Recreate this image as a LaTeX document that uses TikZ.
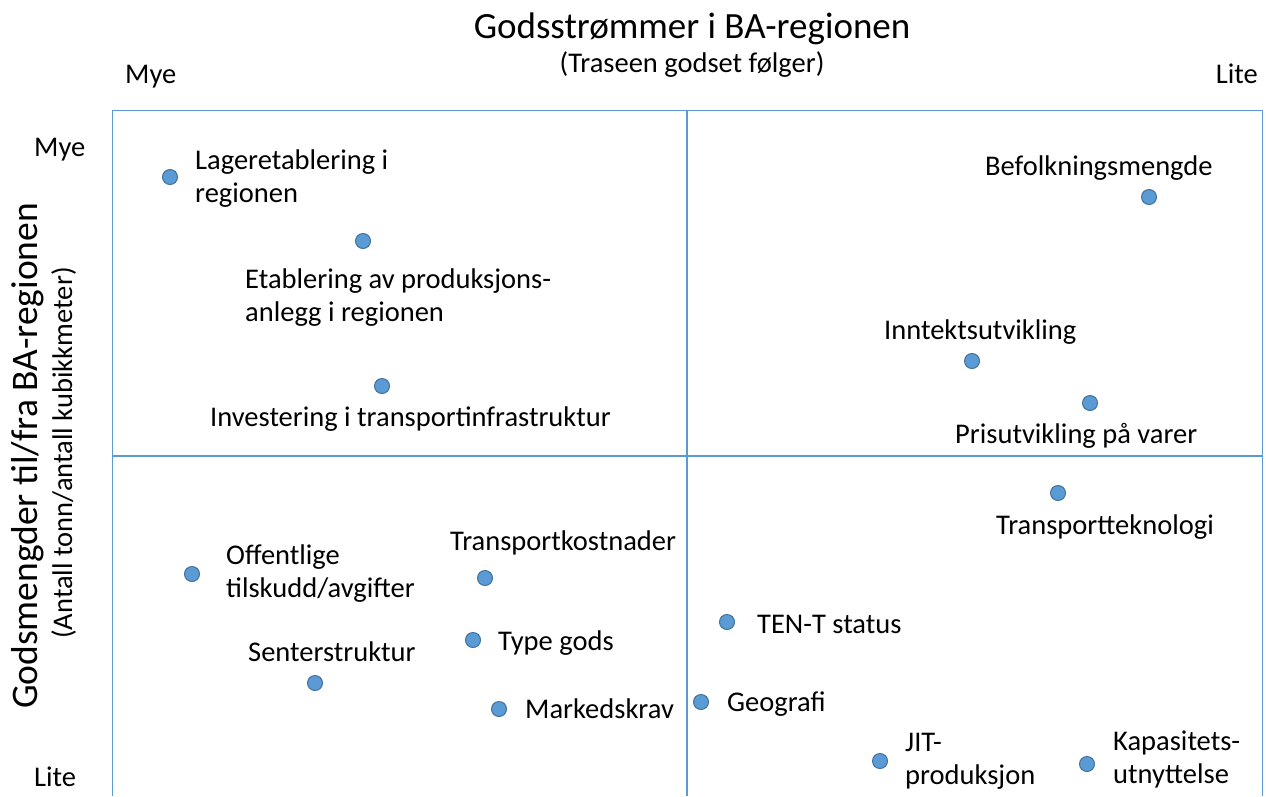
\documentclass[tikz,border=0pt]{standalone}
\usepackage{fontspec}
\setmainfont{Carlito}
\definecolor{gridline}{HTML}{5B9BD5}
\definecolor{dotfill}{HTML}{5B9BD5}
\definecolor{dotdraw}{HTML}{41719C}
\begin{document}
\begin{tikzpicture}[x=1pt,y=-1pt,
  dot/.style={circle,fill=dotfill,draw=dotdraw,line width=1pt,minimum size=15pt,inner sep=0pt},
  lbl/.style={font=\fontsize{28.5}{32.5}\selectfont,anchor=base west,align=left,inner sep=0pt},
  ax/.style={font=\fontsize{28.5}{32}\selectfont,inner sep=0pt},
  grid/.style={draw=gridline,line width=1.3pt}]
\useasboundingbox (0,0) rectangle (1266,796);
% frame
\coordinate (tl) at (112,110);
\coordinate (tr) at (1262,110);
\coordinate (bl) at (112,796);
\coordinate (br) at (1262,796);
\coordinate (mt) at (687,110);
\coordinate (mb) at (687,796);
\coordinate (ml) at (112,456);
\coordinate (mr) at (1262,456);
\draw[grid,line width=0.9pt] (bl) -- (tl) -- (tr) -- (br);
\draw[grid] (mt) -- (mb);
\draw[grid] (ml) -- (mr);
% titles
\node[font=\fontsize{37}{42}\selectfont,inner sep=0pt,anchor=base] (title) at (692,38) {Godsstrømmer i BA-regionen};
\node[ax,anchor=base] (sub) at (692,72) {(Traseen godset følger)};
\node[ax,anchor=base west] (mye1) at (125,83) {Mye};
\node[ax,anchor=base east] (lite1) at (1258,83) {Lite};
\node[ax,anchor=base west] (mye2) at (34,156) {Mye};
\node[ax,anchor=base west] (lite2) at (34,786) {Lite};
\node[font=\fontsize{37.5}{42}\selectfont,inner sep=0pt,rotate=90,anchor=base] (ylab) at (37,456) {Godsmengder til/fra BA-regionen};
\node[ax,rotate=90,anchor=base] (ysub) at (72,453) {(Antall tonn/antall kubikkmeter)};
% dots
\node[dot] (d1) at (170,177) {};
\node[dot] (d2) at (363,241) {};
\node[dot] (d3) at (382,386) {};
\node[dot] (d4) at (1149,197) {};
\node[dot] (d5) at (972,361) {};
\node[dot] (d6) at (1090,403) {};
\node[dot] (d7) at (1058,493) {};
\node[dot] (d8) at (192,574) {};
\node[dot] (d9) at (485,578) {};
\node[dot] (d10) at (473,640) {};
\node[dot] (d11) at (315,683) {};
\node[dot] (d12) at (499,709) {};
\node[dot] (d13) at (727,622) {};
\node[dot] (d14) at (701,702) {};
\node[dot] (d15) at (880,761) {};
\node[dot] (d16) at (1087,764) {};
% labels (multi-line nodes: base = baseline of last line)
\node[lbl] (t1) at (195,202) {Lageretablering i\\regionen};
\node[lbl] (t2) at (245,321) {Etablering av produksjons-\\anlegg i regionen};
\node[lbl] (t3) at (210,426) {Investering i transportinfrastruktur};
\node[lbl] (t4) at (985,175) {Befolkningsmengde};
\node[lbl] (t5) at (884,339) {Inntektsutvikling};
\node[lbl] (t6) at (955,443) {Prisutvikling på varer};
\node[lbl] (t7) at (996,534) {Transportteknologi};
\node[lbl] (t8) at (226,597) {Offentlige\\tilskudd/avgifter};
\node[lbl] (t9) at (450,550) {Transportkostnader};
\node[lbl] (t10) at (498,650) {Type gods};
\node[lbl] (t11) at (248,661) {Senterstruktur};
\node[lbl] (t12) at (525,718) {Markedskrav};
\node[lbl] (t13) at (757,633) {TEN-T status};
\node[lbl] (t14) at (727,711) {Geografi};
\node[lbl] (t15) at (905,784) {JIT-\\produksjon};
\node[lbl] (t16) at (1113,783) {Kapasitets-\\utnyttelse};
\end{tikzpicture}
\end{document}
